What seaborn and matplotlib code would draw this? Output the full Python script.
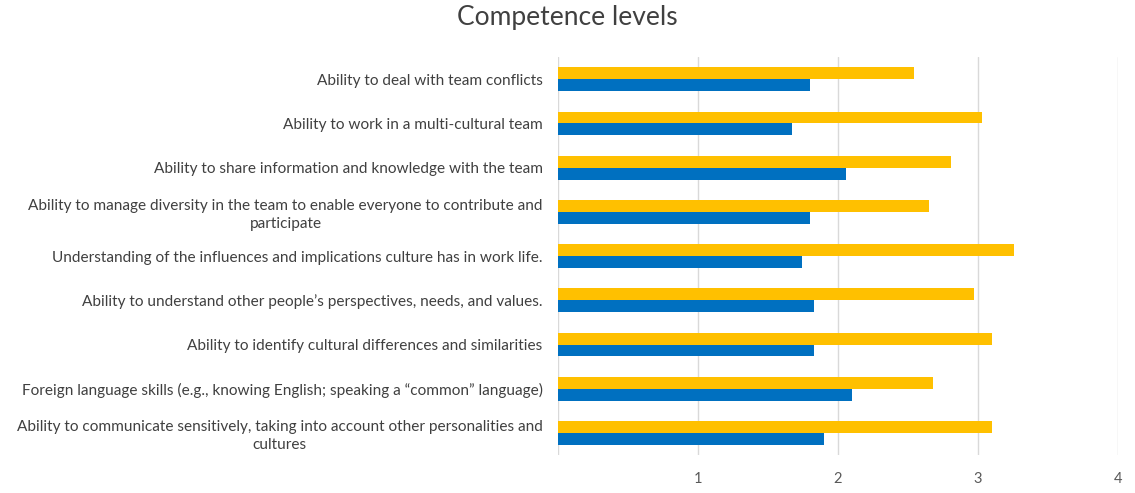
import matplotlib
matplotlib.use('Agg')
import matplotlib.pyplot as plt
import pandas as pd
import seaborn as sns

categories = [
    'Ability to deal with team conflicts',
    'Ability to work in a multi-cultural team',
    'Ability to share information and knowledge with the team',
    'Ability to manage diversity in the team to enable everyone to contribute and\nparticipate',
    'Understanding of the influences and implications culture has in work life.',
    'Ability to understand other people\u2019s perspectives, needs, and values.',
    'Ability to identify cultural differences and similarities',
    'Foreign language skills (e.g., knowing English; speaking a \u201ccommon\u201d language)',
    'Ability to communicate sensitively, taking into account other personalities and\ncultures',
]
series_yellow = [2.54, 3.03, 2.81, 2.65, 3.26, 2.97, 3.10, 2.68, 3.10]
series_blue = [1.80, 1.67, 2.06, 1.80, 1.74, 1.83, 1.83, 2.10, 1.90]
series_names = ['Series 2', 'Series 1']
x_ticks = [0, 1, 2, 3, 4]
x_tick_labels = ['', '1', '2', '3', '4']

df = pd.DataFrame({
    'category': categories * 2,
    'value': series_yellow + series_blue,
    'series': [series_names[0]] * len(categories) + [series_names[1]] * len(categories),
})

sns.set_theme(style='white')
plt.rcParams['font.family'] = ['Lato', 'DejaVu Sans']

fig = plt.figure(figsize=(11.35, 4.93), dpi=100)
ax = fig.add_axes([0.4916, 0.077, 0.4934, 0.807])

sns.barplot(
    data=df,
    x='value',
    y='category',
    hue='series',
    hue_order=series_names,
    palette=['#FFC000', '#0070C0'],
    orient='h',
    width=0.54,
    saturation=1,
    linewidth=0,
    legend=False,
    ax=ax,
)

ax.set_xlim(0, 4)
ax.set_ylim(8.5, -0.5)
ax.set_xticks(x_ticks)
ax.set_xticklabels(x_tick_labels)
ax.grid(axis='x', color='#d9d9d9', linewidth=1)
ax.set_axisbelow(True)
for side in ['top', 'right', 'bottom', 'left']:
    ax.spines[side].set_visible(False)
ax.tick_params(axis='both', length=0, colors='#404040')
ax.tick_params(axis='y', pad=11, labelsize=11.1)
ax.tick_params(axis='x', pad=12, colors='#595959', labelsize=10.5)
for lbl in ax.get_yticklabels():
    lbl.set_multialignment('center')
    lbl.set_linespacing(1.35)
ax.set_xlabel('')
ax.set_ylabel('')

fig.suptitle('Competence levels', x=0.5, y=0.99, fontsize=19, color='#404040')

fig.savefig('out.png', dpi=100)
